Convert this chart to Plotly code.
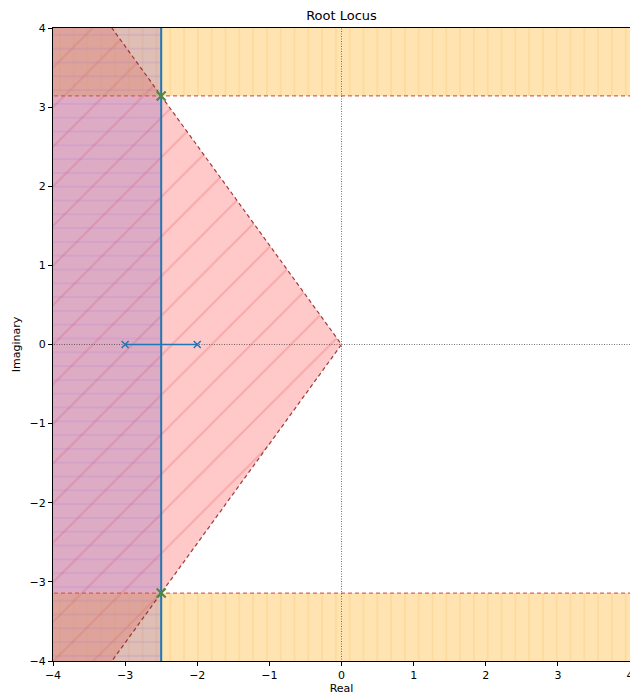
import numpy as np
import plotly.graph_objects as go

# Open-loop poles of G(s) = K / ((s + 2)(s + 3))
pole_re = [-3.0, -2.0]
pole_im = [0.0, 0.0]

# Breakaway point; the locus leaves the real axis vertically here
breakaway_re = -2.5

# Chosen closed-loop design points
design_re = [-2.5, -2.5]
design_im = [3.1416, -3.1416]

# Specification boundaries
wd_min = 3.1416        # damped frequency bound -> |Im(s)| >= wd_min
sigma_bound = -2.5     # settling-time bound -> Re(s) <= sigma_bound

axis_ticks = [-4, -3, -2, -1, 0, 1, 2, 3, 4]

FAR = 20.0
FONT = "DejaVu Sans"

fig = go.Figure()

# Damping-ratio cone (through the design point direction)
u_re, u_im = design_re[0], design_im[0]
k = FAR / abs(u_re)
fig.add_trace(go.Scatter(
    x=[0, k * u_re, k * u_re, 0], y=[0, k * u_im, -k * u_im, 0],
    mode="lines", line=dict(width=0), fill="toself",
    fillcolor="rgba(255,0,0,0.2)",
    fillpattern=dict(shape="/", size=28, solidity=0.07,
                     fgcolor="rgba(220,40,40,0.4)",
                     bgcolor="rgba(255,0,0,0.21)"),
    hoverinfo="skip", showlegend=False))

# Damped-frequency bands |Im| >= wd_min
for sgn in (1, -1):
    fig.add_trace(go.Scatter(
        x=[-FAR, FAR, FAR, -FAR, -FAR],
        y=[sgn * wd_min, sgn * wd_min, sgn * FAR, sgn * FAR, sgn * wd_min],
        mode="lines", line=dict(width=0), fill="toself",
        fillcolor="rgba(255,165,0,0.3)",
        fillpattern=dict(shape="|", size=13.8, solidity=0.1,
                         fgcolor="rgba(240,160,40,0.4)",
                         bgcolor="rgba(255,165,0,0.3)"),
        hoverinfo="skip", showlegend=False))

# Settling-time region Re(s) <= sigma_bound
fig.add_trace(go.Scatter(
    x=[-FAR, sigma_bound, sigma_bound, -FAR, -FAR],
    y=[-FAR, -FAR, FAR, FAR, -FAR],
    mode="lines", line=dict(width=0), fill="toself",
    fillcolor="rgba(148,103,189,0.3)",
    fillpattern=dict(shape="-", size=13.8, solidity=0.1,
                     fgcolor="rgba(150,100,210,0.4)",
                     bgcolor="rgba(148,103,189,0.3)"),
    hoverinfo="skip", showlegend=False))

# Boundary lines of the cone
fig.add_trace(go.Scatter(
    x=[k * u_re, 0, k * u_re], y=[k * u_im, 0, -k * u_im],
    mode="lines", line=dict(color="rgba(150,40,40,0.9)", width=1.2, dash="4px,3px"),
    hoverinfo="skip", showlegend=False))

# Boundary lines of the bands
for sgn in (1, -1):
    fig.add_trace(go.Scatter(
        x=[-FAR, FAR], y=[sgn * wd_min, sgn * wd_min],
        mode="lines", line=dict(color="rgba(215,85,60,0.9)", width=1.2, dash="4px,3px"),
        hoverinfo="skip", showlegend=False))

# Real and imaginary axes
fig.add_trace(go.Scatter(x=[-FAR, FAR], y=[0, 0], mode="lines",
                         line=dict(color="rgba(50,50,50,0.85)", width=0.8, dash="1px,1.5px"),
                         hoverinfo="skip", showlegend=False))
fig.add_trace(go.Scatter(x=[0, 0], y=[-FAR, FAR], mode="lines",
                         line=dict(color="rgba(50,50,50,0.85)", width=0.8, dash="1px,1.5px"),
                         hoverinfo="skip", showlegend=False))

# Root locus: vertical branch through the breakaway point
fig.add_trace(go.Scatter(x=[breakaway_re, breakaway_re], y=[-FAR, FAR], mode="lines",
                         line=dict(color="#1f77b4", width=2),
                         hoverinfo="skip", showlegend=False))

# Root locus: real-axis segment between the poles
fig.add_trace(go.Scatter(x=pole_re, y=pole_im, mode="lines+markers",
                         line=dict(color="#1f77b4", width=1.5),
                         marker=dict(symbol="x-thin", size=7,
                                     line=dict(color="#1f77b4", width=1.5)),
                         hoverinfo="skip", showlegend=False))

# Design points
fig.add_trace(go.Scatter(x=design_re, y=design_im, mode="markers",
                         marker=dict(symbol="x-thin", size=9,
                                     line=dict(color="#4c8a3c", width=2)),
                         hoverinfo="skip", showlegend=False))

axis_common = dict(
    range=[-4, 4], tickmode="array", tickvals=axis_ticks,
    showgrid=False, zeroline=False, automargin=False,
    showline=True, linecolor="black", linewidth=1, mirror=True,
    ticks="outside", ticklen=4, tickwidth=1, tickcolor="black",
    ticklabeloverflow="allow",
    tickfont=dict(family=FONT, size=11, color="black"),
)

fig.update_layout(
    width=630, height=700,
    margin=dict(l=53, r=0, t=28, b=39, autoexpand=False),
    paper_bgcolor="white", plot_bgcolor="white",
    title=dict(text="Root Locus", x=0.5, xref="paper", xanchor="center",
               y=1 - 15 / 700, yanchor="middle",
               font=dict(family=FONT, size=13, color="black")),
    xaxis=dict(**axis_common,
               title=dict(text="Real", standoff=3,
                          font=dict(family=FONT, size=11, color="black"))),
    yaxis=dict(**axis_common,
               title=dict(text="Imaginary", standoff=6,
                          font=dict(family=FONT, size=11, color="black"))),
)

fig.write_html("out.html")
